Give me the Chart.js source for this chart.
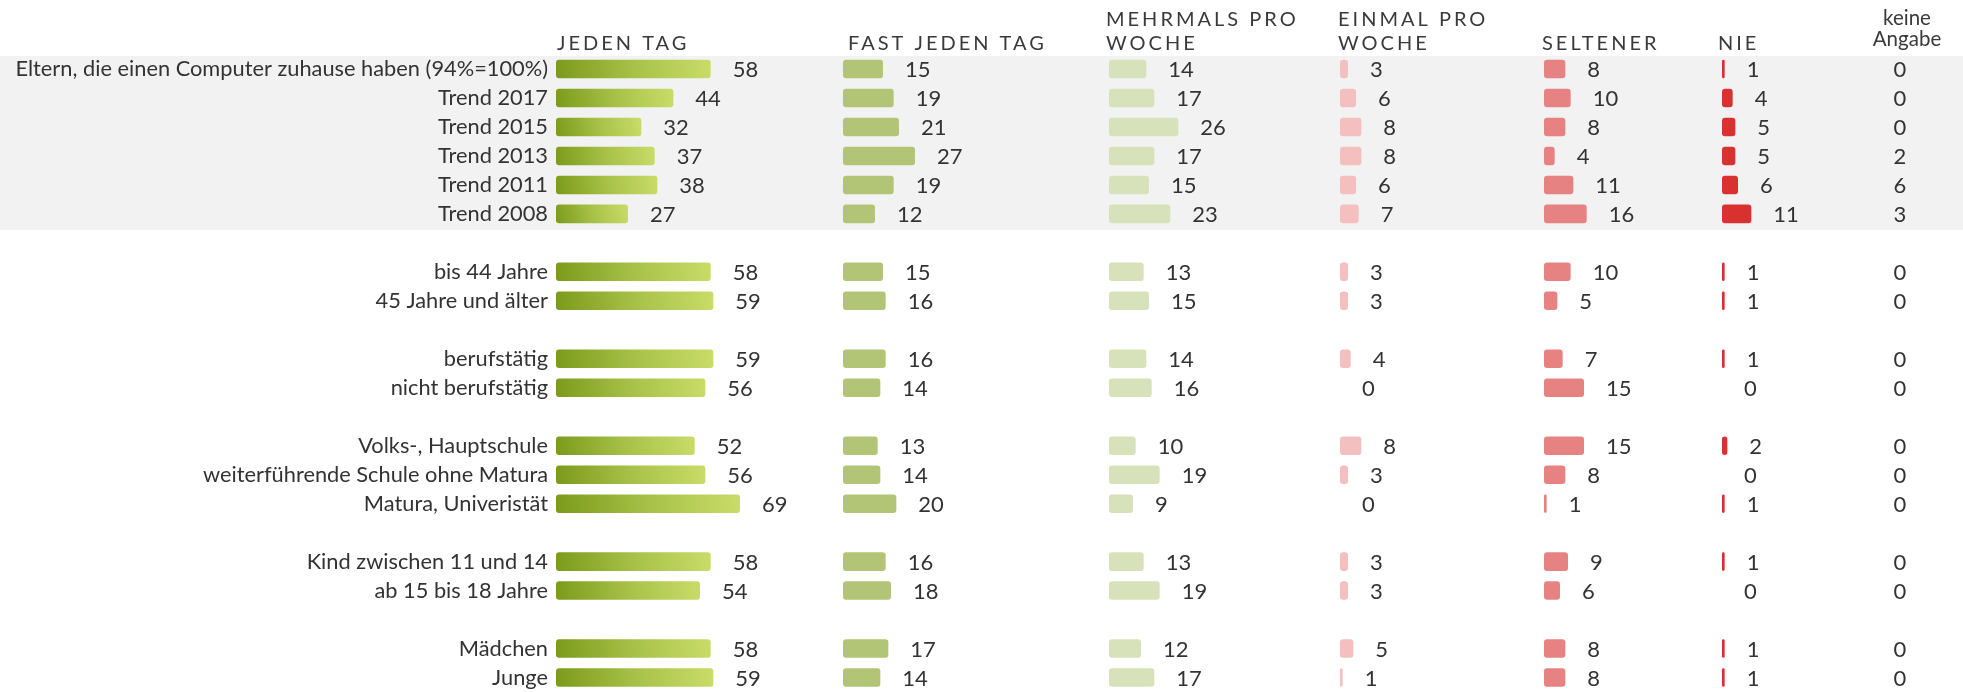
<!DOCTYPE html>
<html>
<head>
<meta charset="utf-8">
<title>Computernutzung</title>
<script src="https://cdn.jsdelivr.net/npm/chart.js@4.4.1/dist/chart.umd.min.js"></script>
<style>
    html, body { margin: 0; padding: 0; background: #fff; }
    #wrap { width: 1963px; height: 692px; }
</style>
</head>
<body>
<div id="wrap"><canvas id="usageChart" width="1963" height="692"></canvas></div>
<script>
// rows (empty strings are the spacer rows between groups)
var labels = [
    'Eltern, die einen Computer zuhause haben (94%=100%)',
    'Trend 2017', 'Trend 2015', 'Trend 2013', 'Trend 2011', 'Trend 2008',
    '',
    'bis 44 Jahre', '45 Jahre und älter',
    '',
    'berufstätig', 'nicht berufstätig',
    '',
    'Volks-, Hauptschule', 'weiterführende Schule ohne Matura', 'Matura, Univeristät',
    '',
    'Kind zwischen 11 und 14', 'ab 15 bis 18 Jahre',
    '',
    'Mädchen', 'Junge'
];

var jedenTag     = [58, 44, 32, 37, 38, 27, null, 58, 59, null, 59, 56, null, 52, 56, 69, null, 58, 54, null, 58, 59];
var fastJedenTag = [15, 19, 21, 27, 19, 12, null, 15, 16, null, 16, 14, null, 13, 14, 20, null, 16, 18, null, 17, 14];
var mehrmals     = [14, 17, 26, 17, 15, 23, null, 13, 15, null, 14, 16, null, 10, 19,  9, null, 13, 19, null, 12, 17];
var einmal       = [ 3,  6,  8,  8,  6,  7, null,  3,  3, null,  4,  0, null,  8,  3,  0, null,  3,  3, null,  5,  1];
var seltener     = [ 8, 10,  8,  4, 11, 16, null, 10,  5, null,  7, 15, null, 15,  8,  1, null,  9,  6, null,  8,  8];
var nie          = [ 1,  4,  5,  5,  6, 11, null,  1,  1, null,  1,  0, null,  2,  0,  1, null,  1,  0, null,  1,  1];
var keineAngabe  = [ 0,  0,  0,  2,  6,  3, null,  0,  0, null,  0,  0, null,  0,  0,  0, null,  0,  0, null,  0,  0];

var headers = [
    ['JEDEN TAG'],
    ['FAST JEDEN TAG'],
    ['MEHRMALS PRO', 'WOCHE'],
    ['EINMAL PRO', 'WOCHE'],
    ['SELTENER'],
    ['NIE'],
    ['keine', 'Angabe']
];

(function () {
    'use strict';

    var colIds = ['x0', 'x1', 'x2', 'x3', 'x4', 'x5', 'x6'];
    // pixel width of each column, all columns share the same px per percent
    var colWidths = [287, 266, 231, 204, 178, 138, 80];
    var headerDx = [1, 5, -3, -2, -2, -4, 7];
    var pxPerUnit = 2.667;
    var bandRows = 6;
    var textColor = '#333333';

    Chart.defaults.font.family = 'Lato';

    var jedenGradient = function (context) {
        var chart = context.chart;
        var xs = chart.scales.x0, ys = chart.scales.y;
        if (!xs || !ys || context.raw === null || context.raw === undefined) {
            return '#a4bf45';
        }
        var x0 = xs.getPixelForValue(0);
        var x1 = xs.getPixelForValue(context.raw);
        var yc = ys.getPixelForValue(context.dataIndex);
        if (!isFinite(x0) || !isFinite(x1) || !isFinite(yc)) {
            return '#a4bf45';
        }
        var g = chart.ctx.createLinearGradient(x0, yc + 9, Math.max(x1, x0 + 1), yc - 9);
        g.addColorStop(0, '#7b9a1a');
        g.addColorStop(0.5, '#a7c148');
        g.addColorStop(1, '#c9dc68');
        return g;
    };

    var series = [
        { label: 'jeden Tag', data: jedenTag, color: jedenGradient },
        { label: 'fast jeden Tag', data: fastJedenTag, color: '#b2c576' },
        { label: 'mehrmals pro Woche', data: mehrmals, color: '#d7e2bb' },
        { label: 'einmal pro Woche', data: einmal, color: '#f3bfbf' },
        { label: 'seltener', data: seltener, color: '#e68282' },
        { label: 'nie', data: nie, color: '#d93030' },
        { label: 'keine Angabe', data: keineAngabe, color: 'rgba(0,0,0,0)', centerLabel: true }
    ];

    var datasets = series.map(function (s, i) {
        return {
            label: s.label,
            data: s.data,
            xAxisID: colIds[i],
            backgroundColor: s.color,
            borderWidth: 0,
            borderRadius: 3,
            borderSkipped: false,
            grouped: false,
            categoryPercentage: 1,
            barPercentage: 0.64,
            centerLabel: !!s.centerLabel
        };
    });

    var scales = {
        y: {
            type: 'category',
            offset: true,
            afterFit: function (scale) {
                scale.width = 556;
                // no extra room for half labels at the ends
                scale.paddingTop = 0;
                scale.paddingBottom = 0;
            },
            grid: { display: false, drawTicks: false },
            border: { display: false },
            ticks: {
                autoSkip: false,
                padding: 8,
                color: textColor,
                font: { size: 21.8, family: 'Lato' }
            }
        }
    };
    colIds.forEach(function (id, c) {
        scales[id] = {
            type: 'linear',
            position: 'bottom',
            stack: 'columns',
            stackWeight: colWidths[c],
            min: 0,
            max: colWidths[c] / pxPerUnit,
            grid: { display: false, drawTicks: false },
            border: { display: false },
            ticks: { display: false }
        };
    });

    //grey background behind the first block of rows
    var rowBand = {
        id: 'rowBand',
        beforeDraw: function (chart) {
            var y = chart.scales.y, ctx = chart.ctx;
            var half = (y.getPixelForValue(1) - y.getPixelForValue(0)) / 2;
            var top = y.getPixelForValue(0) - half + 1.5;
            var bottom = y.getPixelForValue(bandRows - 1) + half + 1.5;
            ctx.save();
            ctx.fillStyle = '#f2f2f2';
            ctx.fillRect(0, top, chart.width, bottom - top);
            ctx.restore();
        }
    };

    // numbers next to the bars
    var valueLabels = {
        id: 'valueLabels',
        afterDatasetsDraw: function (chart) {
            var ctx = chart.ctx;
            ctx.save();
            ctx.font = '22px Lato';
            ctx.fillStyle = textColor;
            ctx.textBaseline = 'middle';
            chart.data.datasets.forEach(function (ds, di) {
                var meta = chart.getDatasetMeta(di);
                var scale = chart.scales[ds.xAxisID];
                meta.data.forEach(function (bar, i) {
                    var v = ds.data[i];
                    if (v === null || v === undefined) { return; }
                    if (ds.centerLabel) {
                        ctx.textAlign = 'center';
                        ctx.fillText(String(v), (scale.left + scale.right) / 2, bar.y + 1);
                    } else {
                        ctx.textAlign = 'left';
                        ctx.fillText(String(v), bar.x + 22, bar.y + 1);
                    }
                });
            });
            ctx.restore();
        }
    };

    // column titles above each x scale
    var columnHeaders = {
        id: 'columnHeaders',
        afterDraw: function (chart) {
            var ctx = chart.ctx;
            ctx.save();
            ctx.fillStyle = '#3a3a3a';
            ctx.textBaseline = 'alphabetic';
            colIds.forEach(function (id, c) {
                var scale = chart.scales[id];
                var lines = headers[c];
                var last = lines.length - 1;
                var isCaps = lines[0] === lines[0].toUpperCase();
                if (isCaps) {
                    ctx.font = '20px Lato';
                    ctx.letterSpacing = '3px';
                    ctx.textAlign = 'left';
                    lines.forEach(function (txt, l) {
                        ctx.fillText(txt, scale.left + headerDx[c], 50 - (last - l) * 24);
                    });
                } else {
                    ctx.font = '20.5px Lato';
                    ctx.letterSpacing = '0px';
                    ctx.textAlign = 'center';
                    lines.forEach(function (txt, l) {
                        ctx.fillText(txt, (scale.left + scale.right) / 2 + headerDx[c], 46 - (last - l) * 21);
                    });
                }
            });
            ctx.restore();
        }
    };

    var ctx = document.getElementById('usageChart').getContext('2d');
    new Chart(ctx, {
        type: 'bar',
        data: { labels: labels, datasets: datasets },
        options: {
            indexAxis: 'y',
            responsive: false,
            animation: false,
            layout: { padding: { top: 54.5, right: 23, bottom: 0, left: 0 } },
            plugins: {
                legend: { display: false },
                tooltip: { enabled: false }
            },
            scales: scales
        },
        plugins: [rowBand, valueLabels, columnHeaders]
    });
})();
</script>
</body>
</html>
